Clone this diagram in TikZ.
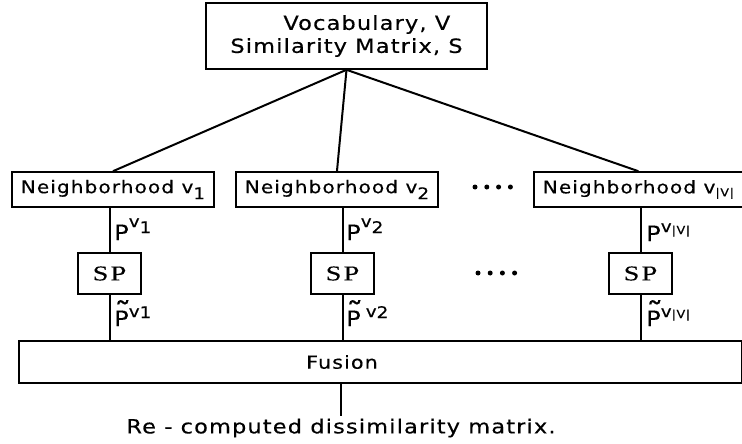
\documentclass[tikz,border=0pt]{standalone}
\usepackage{fontspec}
\usetikzlibrary{positioning,calc}
\newfontfamily\dvsans[FakeStretch=1.15,LetterSpace=6,FakeBold=0.4]{DejaVu Sans}
\newfontfamily\spserif[FakeStretch=1.35,LetterSpace=10,FakeBold=0.4]{Liberation Serif}
\newcommand{\pbig}{\fontsize{21}{21}\selectfont}
\newcommand{\psmall}{\fontsize{16}{16}\selectfont}
\newcommand{\ptiny}{\fontsize{11}{11}\selectfont}
\newcommand{\tildep}{\makebox[0pt][l]{\raisebox{2.5pt}{\fontsize{30}{30}\selectfont\char"02DC}}P}
\tikzset{
  box/.style={draw,line width=1.6pt,inner sep=0pt,font=\dvsans\fontsize{17.5}{23}\selectfont},
  nbox/.style={box,anchor=west,inner xsep=9pt,minimum height=35pt},
  spbox/.style={draw,line width=1.6pt,minimum width=63pt,minimum height=41pt,
    font=\spserif\fontsize{21}{21}\selectfont},
  txt/.style={inner sep=2pt,font=\dvsans\fontsize{18}{18}\selectfont},
  plbl/.style={anchor=base west,inner sep=0pt,font=\dvsans},
  wire/.style={line width=2pt},
  dot/.style={circle,fill=black,inner sep=0pt,minimum size=5pt},
}
\begin{document}
\begin{tikzpicture}[x=1pt,y=-1pt]
  \useasboundingbox (0,0) rectangle (742,444);
  % top: vocabulary and similarity matrix
  \node[box,minimum width=281pt,minimum height=66pt,align=left,
    font=\dvsans\fontsize{19.5}{23}\selectfont] (top) at (346.5,36)
    {\hspace*{53pt}Vocabulary, V\\Similarity Matrix, S};
  % neighborhoods
  \node[nbox] (n1) at (11,189.5) {Neighborhood v\raisebox{-6pt}{\psmall 1}};
  \node[nbox] (n2) at (235,189.5) {Neighborhood v\raisebox{-6pt}{\psmall 2}};
  \node[nbox] (n3) at (533,189.5) {Neighborhood v\raisebox{-3pt}{\ptiny |V|}};
  \draw[wire] (top.south) -- (n1.north);
  \draw[wire] (top.south) -- (n2.north);
  \draw[wire] (top.south) -- (n3.north);
  % sp blocks
  \node[spbox] (sp1) at (109.5,273.5) {SP};
  \node[spbox] (sp2) at (342.5,273.5) {SP};
  \node[spbox] (sp3) at (640.5,273.5) {SP};
  \foreach \i in {0,1,2,3} {
    \node[dot] (dta\i) at (475+\i*11.8,187) {};
    \node[dot] (dtb\i) at (478+\i*12.2,273) {};
  }
  % fusion
  \node[box,minimum width=723pt,minimum height=42pt] (fusion) at (380.5,362) {};
  \node[txt] (fusiontxt) at (342,362) {Fusion};
  \foreach \c in {1,2,3} {
    \draw[wire] (sp\c.north) -- (sp\c.north |- n\c.south);
    \draw[wire] (sp\c.south) -- (sp\c.south |- fusion.north);
  }
  % labels on the wires
  \node[plbl] (p1) at (114,240) {\pbig P\raisebox{13pt}{\psmall v\raisebox{-6pt}{1}}};
  \node[plbl] (p2) at (346,240) {\pbig P\raisebox{13pt}{\psmall v\raisebox{-6pt}{2}}};
  \node[plbl] (p3) at (646,241) {\pbig P\raisebox{9pt}{\psmall v\raisebox{-2pt}{\ptiny |V|}}};
  \node[plbl] (pt1) at (114,326) {\pbig \tildep\raisebox{9pt}{\psmall v\raisebox{-1pt}{1}}};
  \node[plbl] (pt2) at (346,326) {\pbig \tildep\hspace{5pt}\raisebox{9pt}{\psmall v\raisebox{-1pt}{2}}};
  \node[plbl] (pt3) at (646,326) {\pbig \tildep\raisebox{9pt}{\psmall v\raisebox{-1pt}{\ptiny |V|}}};
  % output
  \node[txt,font=\dvsans\fontsize{19.5}{19.5}\selectfont] (out) at (341,428)
    {Re - computed dissimilarity matrix.};
  \draw[wire] (fusion.south -| out.north) -- (out.north);
\end{tikzpicture}
\end{document}
